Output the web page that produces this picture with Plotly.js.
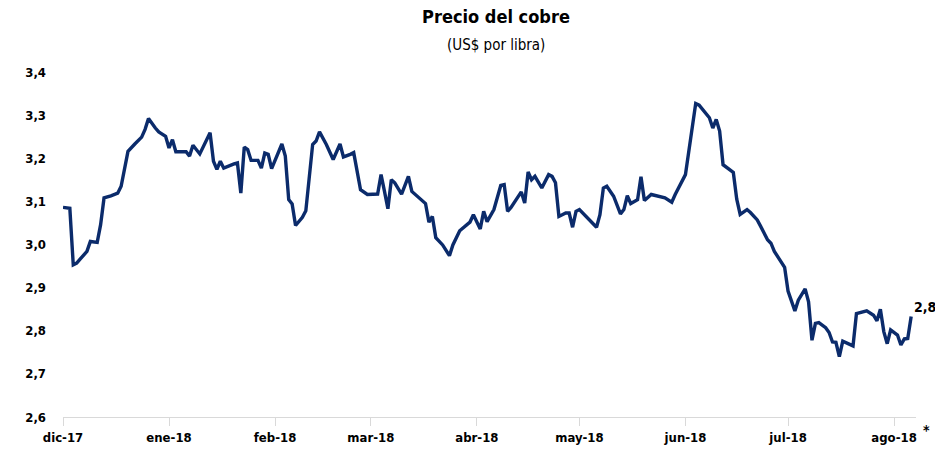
<!DOCTYPE html>
<html>
<head>
<meta charset="utf-8">
<script src="https://cdn.plot.ly/plotly-3.0.1.min.js"></script>
<style>html,body{margin:0;padding:0;background:#fff;}#chart{width:935px;height:463px;}</style>
</head>
<body>
<div id="chart"></div>
<script>
var dates = [
"2017-12-01","2017-12-03","2017-12-04","2017-12-05","2017-12-06","2017-12-08","2017-12-09","2017-12-11","2017-12-12","2017-12-13",
"2017-12-15","2017-12-17","2017-12-18","2017-12-19","2017-12-20","2017-12-22","2017-12-24","2017-12-25","2017-12-26","2017-12-28",
"2017-12-29","2017-12-31","2018-01-01","2018-01-02","2018-01-03","2018-01-06","2018-01-07","2018-01-08","2018-01-10","2018-01-13",
"2018-01-14","2018-01-15","2018-01-16","2018-01-17","2018-01-19","2018-01-20","2018-01-21","2018-01-22","2018-01-23","2018-01-24",
"2018-01-25","2018-01-27","2018-01-28","2018-01-29","2018-01-30","2018-01-31","2018-02-03","2018-02-04","2018-02-05","2018-02-06",
"2018-02-07","2018-02-09","2018-02-10","2018-02-11","2018-02-12","2018-02-13","2018-02-14","2018-02-16","2018-02-18","2018-02-20",
"2018-02-21","2018-02-23","2018-02-24","2018-02-26","2018-02-27","2018-02-28","2018-03-03","2018-03-04","2018-03-05","2018-03-06",
"2018-03-07","2018-03-08","2018-03-10","2018-03-12","2018-03-13","2018-03-15","2018-03-17","2018-03-18","2018-03-19","2018-03-20",
"2018-03-22","2018-03-24","2018-03-25","2018-03-27","2018-03-30","2018-03-31","2018-04-02","2018-04-03","2018-04-04","2018-04-06",
"2018-04-08","2018-04-09","2018-04-10","2018-04-11","2018-04-14","2018-04-15","2018-04-16","2018-04-17","2018-04-18","2018-04-20",
"2018-04-22","2018-04-23","2018-04-24","2018-04-25","2018-04-27","2018-04-28","2018-04-29","2018-04-30","2018-05-01","2018-05-06",
"2018-05-07","2018-05-08","2018-05-09","2018-05-11","2018-05-13","2018-05-14","2018-05-15","2018-05-16","2018-05-18","2018-05-19",
"2018-05-20","2018-05-22","2018-05-26","2018-05-28","2018-05-29","2018-06-01","2018-06-04","2018-06-05","2018-06-08","2018-06-09",
"2018-06-10","2018-06-11","2018-06-12","2018-06-15","2018-06-16","2018-06-17","2018-06-19","2018-06-20","2018-06-22","2018-06-23",
"2018-06-25","2018-06-26","2018-06-27","2018-06-30","2018-07-01","2018-07-03","2018-07-04","2018-07-06","2018-07-07","2018-07-08",
"2018-07-09","2018-07-10","2018-07-12","2018-07-13","2018-07-14","2018-07-15","2018-07-16","2018-07-17","2018-07-19","2018-07-20",
"2018-07-21","2018-07-23","2018-07-24","2018-07-26","2018-07-27","2018-07-28","2018-07-29","2018-07-30","2018-07-31","2018-08-02",
"2018-08-03","2018-08-04","2018-08-05","2018-08-06"
];
var prices = [
3.086,3.084,2.953,2.957,2.966,2.984,3.007,3.005,3.046,3.108,
3.113,3.119,3.135,3.177,3.216,3.233,3.249,3.267,3.292,3.270,
3.261,3.251,3.224,3.243,3.215,3.215,3.205,3.230,3.210,3.259,
3.193,3.174,3.193,3.177,3.185,3.187,3.189,3.119,3.226,3.220,
3.195,3.195,3.177,3.212,3.209,3.176,3.233,3.205,3.104,3.094,
3.044,3.063,3.078,3.154,3.232,3.240,3.261,3.232,3.197,3.233,
3.203,3.209,3.213,3.127,3.121,3.116,3.117,3.162,3.123,3.083,
3.150,3.143,3.117,3.158,3.123,3.108,3.095,3.052,3.065,3.016,
2.999,2.974,2.999,3.032,3.052,3.069,3.036,3.077,3.053,3.081,
3.137,3.139,3.077,3.086,3.122,3.096,3.168,3.150,3.158,3.131,
3.162,3.158,3.143,3.065,3.073,3.073,3.040,3.077,3.081,3.040,
3.069,3.131,3.135,3.112,3.071,3.081,3.113,3.095,3.104,3.157,
3.102,3.116,3.108,3.098,3.116,3.162,3.327,3.323,3.294,3.270,
3.290,3.263,3.185,3.167,3.105,3.070,3.081,3.074,3.057,3.042,
3.011,3.003,2.984,2.947,2.892,2.846,2.871,2.897,2.867,2.778,
2.817,2.819,2.807,2.796,2.774,2.773,2.740,2.776,2.770,2.765,
2.840,2.843,2.846,2.836,2.823,2.850,2.798,2.770,2.802,2.790,
2.767,2.781,2.782,2.833
];
var monthTicks = ["2017-12-01","2018-01-01","2018-02-01","2018-03-01","2018-04-01","2018-05-01","2018-06-01","2018-07-01","2018-08-01"];
var monthLabels = ["dic-17","ene-18","feb-18","mar-18","abr-18","may-18","jun-18","jul-18","ago-18"];
var yTicks = [2.6,2.7,2.8,2.9,3.0,3.1,3.2,3.3,3.4];
var titleText = "Precio del cobre";
var subtitleText = "(US$ por libra)";

var FONT = "'Liberation Sans Narrow','DejaVu Sans Condensed','Liberation Sans',sans-serif";
var lastVal = prices[prices.length - 1];
var lastLabel = lastVal.toFixed(1).replace('.', ',');

var trace = {
  type: 'scatter', mode: 'lines',
  x: dates, y: prices,
  line: {color: '#0b2b6b', width: 3.4},
  hoverinfo: 'x+y'
};

var layout = {
  width: 935, height: 463,
  margin: {l: 63, r: 19, t: 72, b: 46, pad: 0},
  paper_bgcolor: '#ffffff', plot_bgcolor: '#ffffff',
  separators: ',.',
  showlegend: false,
  font: {family: FONT, size: 13, color: '#000'},
  title: {
    text: '<b>' + titleText + '</b>',
    font: {family: FONT, size: 18, color: '#000'},
    x: 496/935, xanchor: 'center', xref: 'container',
    y: 1 - 17/463, yanchor: 'middle', yref: 'container'
  },
  xaxis: {
    type: 'date',
    range: ['2017-12-01', '2018-08-07 10:00'],
    tickmode: 'array', tickvals: monthTicks, ticktext: monthLabels.map(function(s){return '<b>'+s+'</b>';}),
    ticks: 'outside', ticklen: 8, tickwidth: 1, tickcolor: '#d9d9d9',
    showline: true, linecolor: '#d9d9d9', linewidth: 1,
    showgrid: false, zeroline: false,
    tickfont: {family: FONT, size: 13, color: '#000'},
    fixedrange: true
  },
  yaxis: {
    range: [2.6, 3.4],
    tickmode: 'array', tickvals: yTicks,
    ticktext: yTicks.map(function(v){return '<b>' + v.toFixed(1).replace('.', ',') + '</b>';}),
    showgrid: false, zeroline: false, showline: false,
    ticks: '', ticklabelstandoff: 16,
    tickfont: {family: FONT, size: 13, color: '#000'},
    fixedrange: true
  },
  annotations: [
    {text: subtitleText, xref: 'paper', yref: 'paper', x: (496-63)/853, y: (417-45)/345,
     xanchor: 'center', yanchor: 'middle', showarrow: false,
     font: {family: FONT, size: 15, color: '#000'}},
    {text: '<b>' + lastLabel + '</b>', xref: 'x', yref: 'y', x: dates[dates.length-1], y: lastVal,
     xanchor: 'left', yanchor: 'bottom', showarrow: false, xshift: 1, yshift: 0,
     font: {family: FONT, size: 14, color: '#000'}},
    {text: '<b>*</b>', xref: 'paper', yref: 'paper', x: (927-63)/853, y: (417-430)/345,
     xanchor: 'center', yanchor: 'middle', showarrow: false,
     font: {family: FONT, size: 14, color: '#000'}}
  ]
};

Plotly.newPlot('chart', [trace], layout, {displayModeBar: false, staticPlot: true});
</script>
</body>
</html>
